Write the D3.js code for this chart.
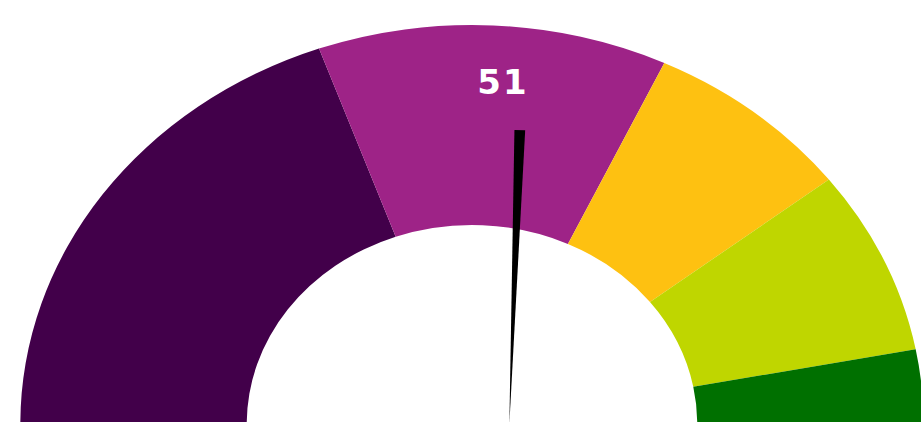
<!DOCTYPE html>
<html>
<head>
<meta charset="utf-8">
<script src="https://cdn.jsdelivr.net/npm/d3@7"></script>
<style>
    html, body { margin: 0; padding: 0; background: #fff; overflow: hidden; }
    svg { display: block; }
</style>
</head>
<body>
<svg id="chart"></svg>
<script>
// gauge data
const scaleDomain = [0, 100];
const bandEnds = [39, 64, 79, 94, 100];
const bandColors = ['#42004a', '#9e2387', '#fec111', '#bfd600', '#007000'];
const gaugeValue = 51;

const width = 921;
const height = 422;
const cx = 472;
const cy = 424;
const stretchX = 1.132;   // the gauge is drawn wider than tall
const outerRadius = 399;
const innerRadius = 199;
const needleLength = 294;
const needleWidth = 9.5;
const needleOffsetX = 33;  // needle pivot sits a little right of the arc centre

const svg = d3.select('#chart')
        .attr('width', width)
        .attr('height', height);

const angle = d3.scaleLinear()
    .domain(scaleDomain)
    .range([-Math.PI / 2, Math.PI / 2]);

const arc = d3.arc()
    .innerRadius(innerRadius)
    .outerRadius(outerRadius);

const bands = bandEnds.map((end, i) => ({
    start: i === 0 ? scaleDomain[0] : bandEnds[i - 1],
    end,
    color: bandColors[i]
}));

const gauge = svg.append('g')
        .attr('transform', `translate(${cx}, ${cy}) scale(${stretchX}, 1)`);

gauge.selectAll('path.band')
    .data(bands)
    .enter()
    .append('path')
        .attr('class', 'band')
        .attr('d', d => arc({ startAngle: angle(d.start), endAngle: angle(d.end) }))
        .style('fill', d => d.color);

// needle
const needleDeg = angle(gaugeValue) * 180 / Math.PI;
gauge.append('path')
        .attr('class', 'needle')
        .attr('transform', `translate(${needleOffsetX}, 0) rotate(${needleDeg})`)
        .attr('d', d3.line()([
            [-needleWidth / 2, -needleLength],
            [needleWidth / 2, -needleLength],
            [0, 0]
        ]) + 'Z')
        .style('fill', '#000');

// value label
svg.append('text')
        .attr('class', 'value')
        .attr('x', cx + 31)
        .attr('y', 94)
        .attr('text-anchor', 'middle')
        .style('font-family', '"DejaVu Sans", sans-serif')
        .style('font-weight', 'bold')
        .style('font-size', '34px')
        .style('letter-spacing', '2px')
        .style('fill', '#fff')
        .text(gaugeValue);
</script>
</body>
</html>
